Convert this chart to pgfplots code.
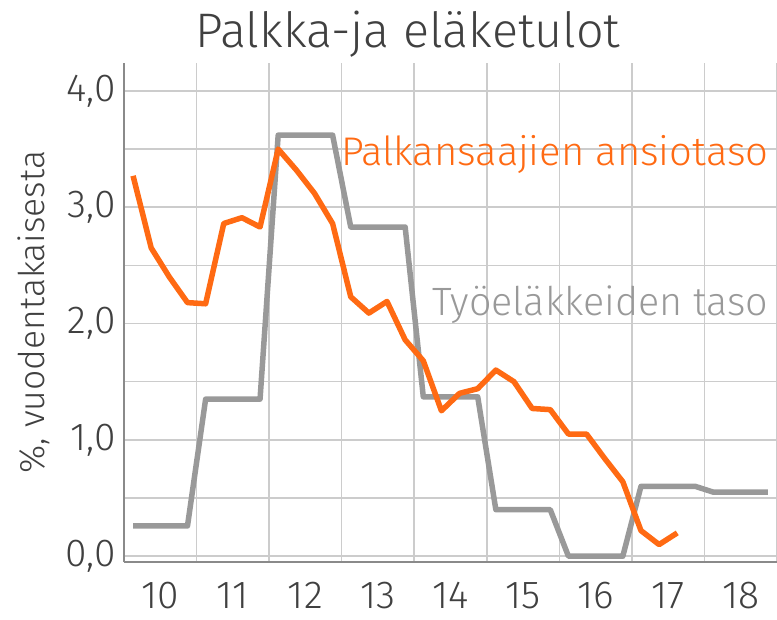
\documentclass[border=0pt]{standalone}
\usepackage{fontspec}
\IfFontExistsTF{Fira Sans Light}{\setmainfont{Fira Sans Light}}{\setmainfont{Fira Sans}}
\usepackage{pgfplots}
\pgfplotsset{compat=1.18}
\definecolor{orangeline}{HTML}{FF6A13}
\definecolor{greyline}{HTML}{999999}
\definecolor{txt}{HTML}{404040}
\definecolor{gridc}{HTML}{CCCCCC}
\definecolor{axc}{HTML}{8A8A8A}

\begin{document}
\begin{tikzpicture}[x=1pt,y=1pt]
\useasboundingbox (0,0) rectangle (777,619);
\begin{axis}[
    at={(124pt,57pt)}, anchor=south west,
    scale only axis, width=653pt, height=499pt,
    xmin=10, xmax=19, ymin=-0.05, ymax=4.24,
    axis x line*=bottom, axis y line*=left,
    axis line style={axc, line width=1.5pt, -},
    xtick={10,11,12,13,14,15,16,17,18,19},
    x tick label as interval,
    xticklabels={10,11,12,13,14,15,16,17,18},
    ytick={0,1,2,3,4}, minor ytick={0.5,1.5,2.5,3.5},
    grid=both,
    major grid style={gridc, line width=1.5pt},
    minor grid style={gridc, line width=1.5pt},
    major tick length=0pt, minor tick length=0pt,
    tick label style={font=\fontsize{39}{44}\selectfont, text=txt},
    /pgf/number format/assume math mode=true,
    yticklabel={\pgfmathprintnumber[fixed,fixed zerofill,precision=1,use comma]{\tick}},
    yticklabel style={xshift=-5pt},
    xticklabel style={yshift=-17pt},
    clip=false,
]
% Työeläkkeiden taso (grey, annual steps)
\addplot[greyline, line width=5.5pt, line join=round] coordinates {
    (10.125,0.26) (10.375,0.26) (10.625,0.26) (10.875,0.26)
    (11.125,1.35) (11.375,1.35) (11.625,1.35) (11.875,1.35)
    (12.125,3.62) (12.375,3.62) (12.625,3.62) (12.875,3.62)
    (13.125,2.83) (13.375,2.83) (13.625,2.83) (13.875,2.83)
    (14.125,1.37) (14.375,1.37) (14.625,1.37) (14.875,1.37)
    (15.125,0.40) (15.375,0.40) (15.625,0.40) (15.875,0.40)
    (16.125,0.00) (16.375,0.00) (16.625,0.00) (16.875,0.00)
    (17.125,0.60) (17.375,0.60) (17.625,0.60) (17.875,0.60)
    (18.125,0.55) (18.375,0.55) (18.625,0.55) (18.875,0.55)
};
% Palkansaajien ansiotaso (orange, quarterly)
\addplot[orangeline, line width=5.5pt, line join=round] coordinates {
    (10.125,3.27) (10.375,2.65) (10.625,2.40) (10.875,2.18)
    (11.125,2.17) (11.375,2.86) (11.625,2.91) (11.875,2.83)
    (12.125,3.50) (12.375,3.32) (12.625,3.12) (12.875,2.86)
    (13.125,2.23) (13.375,2.09) (13.625,2.19) (13.875,1.86)
    (14.125,1.68) (14.375,1.25) (14.625,1.40) (14.875,1.44)
    (15.125,1.60) (15.375,1.50) (15.625,1.27) (15.875,1.26)
    (16.125,1.05) (16.375,1.05) (16.625,0.84) (16.875,0.64)
    (17.125,0.22) (17.375,0.10) (17.625,0.20)
};
\node[anchor=base east, text=orangeline, font=\fontsize{40}{46}\selectfont, inner sep=0pt]
    at (axis cs:18.885,3.36) {Palkansaajien ansiotaso};
\node[anchor=base east, text=greyline, font=\fontsize{39.5}{46}\selectfont, inner sep=0pt]
    at (axis cs:18.885,2.07) {Työeläkkeiden taso};
\end{axis}
\node[anchor=base, text=txt, font=\fontsize{48.5}{54}\selectfont, inner sep=0pt]
    at (408,571) {Palkka-ja eläketulot};
\node[anchor=base, rotate=90, text=txt, font=\fontsize{35.5}{40}\selectfont, inner sep=0pt]
    at (45,307) {\%, vuodentakaisesta};
\end{tikzpicture}
\end{document}
